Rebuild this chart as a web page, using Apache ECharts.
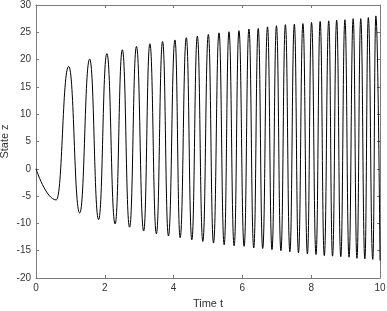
<!DOCTYPE html>
<html>
<head>
<meta charset="utf-8">
<script src="https://cdn.jsdelivr.net/npm/echarts@6/dist/echarts.min.js"></script>
<style>
  html, body { margin: 0; padding: 0; background: #fff; }
  #chart { width: 387px; height: 311px; }
</style>
</head>
<body>
<div id="chart"></div>
<script>
// extrema of the response (start, troughs/peaks, end)
const tData = [0, 0.59, 0.95, 1.27, 1.56, 1.82, 2.06, 2.30, 2.51, 2.72, 2.92, 3.13, 3.31, 3.50, 3.68,
  3.85, 4.04, 4.19, 4.37, 4.53, 4.69, 4.85, 5.01, 5.16, 5.32, 5.47, 5.61, 5.76, 5.90, 6.05, 6.19,
  6.33, 6.46, 6.59, 6.73, 6.86, 6.99, 7.12, 7.25, 7.38, 7.51, 7.63, 7.76, 7.89, 8.01, 8.14, 8.26,
  8.38, 8.51, 8.62, 8.74, 8.86, 8.98, 9.10, 9.22, 9.33, 9.44, 9.56, 9.66, 9.79, 9.88, 10.0]
const zData = [0, -5.7, 18.75, -8.1, 20.1, -9.3, 21.1, -10.1, 21.8, -10.7, 22.4, -11.4, 22.9, -11.9, 23.3,
  -12.3, 23.6, -12.6, 24.0, -13.0, 24.3, -13.3, 24.6, -13.6, 24.9, -13.9, 25.1, -14.1, 25.3, -14.2, 25.6,
  -14.5, 25.7, -14.6, 26.0, -14.8, 26.2, -15.0, 26.4, -15.2, 26.5, -15.4, 26.6, -15.6, 26.8, -15.7, 27.0,
  -15.9, 27.1, -16.0, 27.2, -16.1, 27.3, -16.2, 27.5, -16.4, 27.5, -16.5, 27.7, -16.6, 28.0, -16.8]
const xTicks = [0, 2, 4, 6, 8, 10]
const yTicks = [-20, -15, -10, -5, 0, 5, 10, 15, 20, 25, 30]

const axisColor = '#7a7a7a'
const textColor = '#333'
const font = 'Liberation Sans, Arial, sans-serif'

let myChart = echarts.init(document.getElementById('chart'))

function boxAxis(pos, ticks, showLabel, extra) {
  return Object.assign({
    type: 'value',
    position: pos,
    min: ticks[0],
    max: ticks[ticks.length - 1],
    interval: ticks[1] - ticks[0],
    axisLine: { show: true, onZero: false, lineStyle: { color: axisColor, width: 1 } },
    axisTick: { show: true, inside: true, length: 3, lineStyle: { color: axisColor } },
    axisLabel: { show: showLabel, color: textColor, fontSize: 10, fontFamily: font, margin: 5 },
    splitLine: { show: false }
  }, extra || {})
}

var option = {
  animation: false,
  backgroundColor: '#fff',
  grid: { left: 36, right: 7, top: 5, bottom: 33, containLabel: false, outerBoundsMode: 'none' },
  xAxis: [
    boxAxis('bottom', xTicks, true, {
      name: 'Time t',
      nameLocation: 'middle',
      nameGap: 20,
      nameMoveOverlap: false,
      nameTextStyle: { color: textColor, fontSize: 11, fontFamily: font }
    }),
    boxAxis('top', xTicks, false)
  ],
  yAxis: [
    boxAxis('left', yTicks, true, {
      name: 'State z',
      nameLocation: 'middle',
      nameRotate: 90,
      nameGap: 26,
      nameMoveOverlap: false,
      nameTextStyle: { color: textColor, fontSize: 11, fontFamily: font }
    }),
    boxAxis('right', yTicks, false)
  ],
  series: [{
    type: 'line',
    data: tData.map((t, i) => [t, zData[i]]),
    smooth: 0.5,
    smoothMonotone: 'x',
    symbol: 'none',
    lineStyle: { color: '#000', width: 1 }
  }]
}
myChart.setOption(option)
</script>
</body>
</html>
